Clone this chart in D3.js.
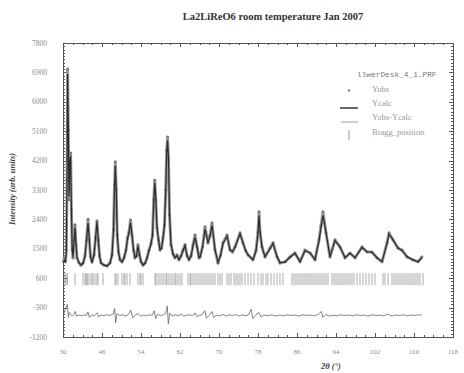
<!DOCTYPE html>
<html lang="en">
<head>
<meta charset="utf-8">
<style>
html, body {
    margin: 0;
    padding: 0;
    background: #fff;
}
svg {
    width: 464px;
    height: 373px;
    display: block;
}
</style>
</head>
<body>
<svg></svg>

<script src="https://unpkg.com/d3@7/dist/d3.min.js"></script>
<script>
var twoTheta = [
    38.1, 38.3, 38.5, 38.68, 38.82, 38.94, 39.09, 39.23, 39.4, 39.56,
    39.72, 39.89, 40.05, 40.26, 40.46, 40.67, 40.87, 41.28, 41.69, 42.1,
    42.51, 42.82, 43.13, 43.4, 43.64, 43.95, 44.36, 44.67, 44.97, 45.24,
    45.49, 45.79, 46.41, 47.03, 47.64, 48.05, 48.36, 48.57, 48.73, 48.92,
    49.12, 49.38, 49.69, 50.1, 50.51, 50.92, 51.23, 51.54, 51.85, 52.15,
    52.46, 52.77, 53.08, 53.38, 53.69, 54.0, 54.41, 54.82, 55.23, 55.64,
    56.05, 56.36, 56.62, 56.82, 57.03, 57.28, 57.59, 57.9, 58.2, 58.51,
    58.82, 59.07, 59.27, 59.45, 59.64, 59.85, 60.15, 60.56, 60.97, 61.38,
    61.79, 62.21, 62.62, 63.03, 63.44, 63.85, 64.26, 64.67, 65.08, 65.49,
    65.9, 66.1, 66.62, 67.13, 67.74, 68.15, 68.56, 69.18, 69.79, 70.31,
    70.82, 71.64, 72.26, 72.77, 73.28, 74.31, 74.92, 75.44, 75.95, 76.97,
    77.59, 77.99, 78.21, 78.41, 78.82, 79.44, 80.46, 81.08, 81.9, 82.51,
    83.54, 84.56, 85.59, 86.62, 87.64, 88.67, 89.69, 90.51, 90.92, 91.33,
    91.95, 92.77, 93.79, 94.82, 95.85, 96.87, 97.9, 99.33, 100.36, 101.38,
    102.41, 103.44, 104.46, 104.87, 105.69, 106.72, 107.54, 108.56, 109.79, 110.82,
    111.64
];
var yObs = [
    1100, 1220, 1100, 1460, 3600, 7000, 5140, 3000, 4220, 4430,
    2690, 1460, 1220, 1770, 2230, 1620, 1220, 1065, 1000, 1060,
    1280, 1770, 2400, 1770, 1250, 1100, 1310, 1830, 2350, 1770,
    1280, 1065, 1000, 970, 1065, 1310, 2075, 3450, 4160, 3300,
    1920, 1400, 1160, 1100, 1220, 1460, 1830, 2010, 2380, 1920,
    1460, 1220, 1280, 1620, 1310, 1100, 1000, 1060, 1220, 1460,
    1650, 1920, 3000, 3600, 3000, 2140, 1770, 1460, 1520, 1830,
    2230, 3300, 4520, 4920, 4220, 2530, 1620, 1340, 1220, 1310,
    1160, 1280, 1460, 1620, 1280, 1160, 1280, 1620, 1920, 1555,
    1220, 1250, 1560, 2170, 1680, 1900, 2290, 1460, 1065, 1300,
    1680, 1920, 1460, 1400, 1555, 1985, 1680, 1450, 1310, 1160,
    1450, 2000, 2630, 2000, 1555, 1250, 1520, 1680, 1250, 1065,
    1100, 1250, 1370, 1100, 1460, 1370, 1160, 1770, 2200, 2630,
    1985, 1250, 1770, 1555, 1220, 1370, 1220, 1555, 1400, 1400,
    1220, 1100, 1680, 1985, 1770, 1520, 1460, 1250, 1160, 1100,
    1250
];
var yCalc = [
    1080, 1150, 1120, 1400, 3500, 6850, 5200, 3100, 4150, 4350,
    2750, 1500, 1250, 1720, 2150, 1650, 1250, 1080, 1010, 1050,
    1260, 1750, 2290, 1790, 1270, 1090, 1300, 1810, 2320, 1780,
    1300, 1070, 1000, 980, 1060, 1300, 2050, 3400, 4050, 3350,
    1950, 1420, 1170, 1100, 1210, 1450, 1800, 2000, 2300, 1940,
    1480, 1230, 1270, 1580, 1320, 1110, 1010, 1050, 1210, 1450,
    1640, 1900, 2950, 3520, 3050, 2160, 1780, 1470, 1510, 1820,
    2200, 3250, 4450, 4820, 4260, 2580, 1650, 1350, 1230, 1290,
    1180, 1270, 1440, 1600, 1300, 1170, 1270, 1600, 1850, 1570,
    1240, 1240, 1540, 2100, 1700, 1880, 2220, 1480, 1080, 1290,
    1660, 1880, 1470, 1420, 1540, 1950, 1690, 1460, 1320, 1170,
    1430, 1950, 2520, 2050, 1560, 1260, 1500, 1660, 1270, 1080,
    1090, 1240, 1360, 1110, 1440, 1380, 1170, 1740, 2150, 2520,
    2010, 1260, 1750, 1560, 1230, 1360, 1230, 1540, 1410, 1390,
    1230, 1110, 1650, 1950, 1780, 1520, 1450, 1260, 1160, 1110,
    1230
];

// difference curve (shifted below the pattern)
var diffTheta = [
    38.1, 38.4, 38.7, 38.9, 39.1, 39.3, 39.6, 39.9, 40.3, 40.5,
    40.8, 41.3, 41.8, 42.3, 42.8, 43.1, 43.4, 43.9, 44.4, 45.0,
    45.3, 45.8, 46.4, 47.0, 47.6, 48.3, 48.6, 48.8, 49.1, 49.6,
    50.2, 50.8, 51.4, 51.9, 52.3, 52.8, 53.4, 53.9, 54.5, 55.1,
    55.7, 56.3, 56.7, 57.0, 57.4, 58.0, 58.6, 59.1, 59.4, 59.6,
    59.9, 60.4, 61.0, 61.6, 62.2, 62.8, 63.4, 64.0, 64.6, 65.1,
    65.5, 66.0, 66.5, 67.1, 67.4, 68.0, 68.6, 68.9, 69.5, 70.2,
    70.8, 71.5, 72.1, 72.8, 73.4, 74.1, 74.8, 75.4, 76.0, 76.6,
    76.9, 77.5, 78.2, 78.6, 79.2, 80.0, 80.8, 81.6, 82.4, 83.2,
    84.0, 84.8, 85.6, 86.4, 87.2, 88.0, 88.8, 89.6, 90.4, 91.0,
    91.3, 91.9, 92.6, 93.4, 94.2, 95.0, 95.8, 96.6, 97.4, 98.2,
    99.0, 99.8, 100.6, 101.4, 102.2, 103.0, 103.8, 104.6, 105.4, 106.2,
    107.0, 107.8, 108.6, 109.4, 110.2, 111.0, 111.6
];
var yDiff = [
    -520, -380, -250, -200, -600, -450, -520, -560, -500, -420,
    -560, -530, -550, -520, -540, -430, -600, -530, -550, -460,
    -580, -530, -550, -520, -540, -500, -330, -760, -480, -540,
    -520, -560, -510, -380, -620, -530, -480, -560, -530, -550,
    -520, -540, -400, -640, -500, -550, -520, -480, -250, -800,
    -470, -560, -520, -550, -500, -560, -530, -520, -550, -460,
    -580, -530, -520, -390, -620, -540, -420, -600, -530, -550,
    -510, -560, -520, -540, -510, -560, -520, -550, -530, -350,
    -640, -530, -450, -590, -530, -550, -520, -560, -530, -550,
    -520, -540, -530, -560, -520, -540, -530, -550, -500, -420,
    -600, -510, -560, -530, -550, -520, -540, -530, -550, -520,
    -540, -530, -560, -520, -540, -530, -550, -500, -560, -530,
    -540, -520, -550, -530, -540, -520, -530
];

// reflection positions
var braggPos = [
    38.41, 38.62, 38.92, 40.46, 42.1, 42.51, 42.72, 42.92, 43.13, 43.54,
    43.95, 44.15, 44.56, 44.97, 45.18, 46.21, 48.67, 48.87, 49.28, 50.1,
    50.51, 50.72, 51.13, 51.74, 53.38, 53.79, 54.0, 54.41, 56.87, 57.08,
    57.49, 57.9, 58.31, 58.72, 59.13, 59.33, 59.74, 60.15, 60.56, 60.97,
    61.18, 61.59, 62.0, 62.41, 63.64, 64.05, 64.26, 64.67, 65.08, 65.49,
    65.9, 66.31, 66.72, 67.13, 67.54, 67.95, 68.36, 68.77, 69.18, 69.79,
    70.21, 70.62, 71.64, 72.05, 72.46, 73.08, 73.49, 73.9, 74.31, 74.72,
    75.33, 75.95, 76.56, 77.18, 78.0, 78.62, 79.03, 79.64, 80.05, 80.67,
    81.28, 81.9, 82.51, 83.13, 84.97, 85.38, 85.79, 86.21, 86.62, 87.03,
    87.44, 87.85, 88.26, 88.67, 89.08, 89.49, 89.9, 90.31, 90.72, 91.13,
    91.54, 91.95, 92.36, 93.18, 93.59, 94.0, 94.41, 94.82, 95.23, 95.64,
    96.05, 96.46, 96.87, 97.28, 97.69, 98.31, 98.92, 99.54, 100.15, 100.77,
    101.38, 102.0, 103.64, 104.05, 104.67, 105.49, 105.9, 106.31, 106.72, 107.13,
    107.54, 107.95, 108.36, 108.77, 109.18, 109.59, 110.0, 110.41, 110.82, 111.23,
    111.85
];

// axis labels as printed on the plot
var xTickLabels = ["30", "46", "54", "62", "70", "78", "86", "94", "102", "110", "118"];
var yTickLabels = ["-1200", "-300", "600", "1500", "2400", "3300", "4200", "5100", "6000", "6900", "7800"];
var legendItems = ["Yobs", "Ycalc", "Yobs-Ycalc", "Bragg_position"];

var svg = d3.select("svg");
var plotL = 63, plotR = 453, plotT = 43, plotB = 337;

var x = d3.scaleLinear().domain([38, 118]).range([plotL, plotR]);
var y = d3.scaleLinear().domain([-1200, 7800]).range([plotB, plotT]);

var serif = "'Liberation Serif', 'DejaVu Serif', serif";
var labelGray = "#8c8c8c";

/////////////////////////////////////////
// frame + ticks (inward, mirrored)
/////////////////////////////////////////
var xMajor = d3.range(38, 118.1, 8);
var xMinor = d3.range(38, 118.1, 2);
var yMajor = d3.range(-1200, 7801, 900);
var yMinor = d3.range(-1200, 7801, 100);

var frame = svg.append("g").attr("stroke", "#555").attr("stroke-width", 1);

frame.append("rect")
    .attr("x", plotL + 0.5).attr("y", plotT + 0.5)
    .attr("width", plotR - plotL).attr("height", plotB - plotT)
    .attr("fill", "none");

frame.selectAll(".xt").data(xMinor).enter().append("path")
    .attr("d", function(d){
        var len = xMajor.indexOf(d) >= 0 ? 4 : 2;
        var px = Math.round(x(d)) + 0.5;
        return "M" + px + "," + plotB + "v" + (-len) + "M" + px + "," + plotT + "v" + len;
    });

frame.selectAll(".yt").data(yMinor).enter().append("path")
    .attr("d", function(d){
        var len = yMajor.indexOf(d) >= 0 ? 4 : 2;
        var py = Math.round(y(d)) + 0.5;
        return "M" + plotL + "," + py + "h" + len + "M" + plotR + "," + py + "h" + (-len);
    });

// tick labels
svg.selectAll(".xl").data(xMajor).enter().append("text")
    .attr("x", function(d){ return x(d) })
    .attr("y", 354)
    .attr("text-anchor", "middle")
    .attr("font-family", serif)
    .attr("font-size", 7)
    .attr("fill", labelGray)
    .text(function(d, i){ return xTickLabels[i] });

svg.selectAll(".yl").data(yMajor).enter().append("text")
    .attr("x", 47)
    .attr("y", function(d){ return y(d) + 2.5 })
    .attr("text-anchor", "end")
    .attr("font-family", serif)
    .attr("font-size", 7.5)
    .attr("fill", labelGray)
    .text(function(d, i){ return yTickLabels[i] });

/////////////////////////////////////////
// titles
/////////////////////////////////////////
svg.append("text")
    .attr("x", 273).attr("y", 20)
    .attr("text-anchor", "middle")
    .attr("font-family", serif)
    .attr("font-weight", "bold")
    .attr("font-size", 10.5)
    .attr("fill", "#333")
    .text("La2LiReO6 room temperature Jan 2007");

svg.append("text")
    .attr("transform", "translate(15,189) rotate(-90)")
    .attr("text-anchor", "middle")
    .attr("font-family", serif)
    .attr("font-weight", "bold")
    .attr("font-style", "italic")
    .attr("font-size", 8.5)
    .attr("fill", "#444")
    .text("Intensity (arb. units)");

svg.append("text")
    .attr("x", 331).attr("y", 369)
    .attr("text-anchor", "middle")
    .attr("font-family", serif)
    .attr("font-weight", "bold")
    .attr("font-style", "italic")
    .attr("font-size", 8.5)
    .attr("fill", "#444")
    .text("2θ (°)");

/////////////////////////////////////////
// data
/////////////////////////////////////////
var obsPts = twoTheta.map(function(t, i){ return [t, yObs[i]] });
var calcPts = twoTheta.map(function(t, i){ return [t, yCalc[i]] });
var diffPts = diffTheta.map(function(t, i){ return [t, yDiff[i]] });

var line = d3.line()
    .x(function(d){ return x(d[0]) })
    .y(function(d){ return y(d[1]) });

// observed points: grey band plus dots
svg.append("path")
    .attr("d", line(obsPts))
    .attr("fill", "none")
    .attr("stroke", "#9a9a9a")
    .attr("stroke-width", 3)
    .attr("stroke-linejoin", "round");

svg.selectAll(".obs").data(obsPts).enter().append("circle")
    .attr("cx", function(d){ return x(d[0]) })
    .attr("cy", function(d){ return y(d[1]) })
    .attr("r", 1.4)
    .attr("fill", "#7a7a7a");

// calculated
svg.append("path")
    .attr("d", line(calcPts))
    .attr("fill", "none")
    .attr("stroke", "#2a2a2a")
    .attr("stroke-width", 1.2);

// bragg ticks
svg.selectAll(".bragg").data(braggPos).enter().append("line")
    .attr("x1", function(d){ return x(d) })
    .attr("x2", function(d){ return x(d) })
    .attr("y1", y(570) - 6)
    .attr("y2", y(570) + 6)
    .attr("stroke", "#8a8a8a")
    .attr("stroke-width", 0.7);

// difference
svg.append("path")
    .attr("d", line(diffPts))
    .attr("fill", "none")
    .attr("stroke", "#666")
    .attr("stroke-width", 0.8);

/////////////////////////////////////////
// legend
/////////////////////////////////////////
var lg = svg.append("g");

lg.append("text")
    .attr("x", 357).attr("y", 77)
    .attr("font-family", "'Liberation Mono', 'DejaVu Sans Mono', monospace")
    .attr("font-size", 7.8)
    .attr("fill", "#777")
    .text("llwerDesk_4_1.PRF");

var rowY = [92, 106, 120, 135];

lg.selectAll(".lt").data(legendItems).enter().append("text")
    .attr("x", 372)
    .attr("y", function(d, i){ return rowY[i] })
    .attr("font-family", serif)
    .attr("font-size", 8.5)
    .attr("fill", "#999")
    .text(function(d){ return d });

lg.append("circle").attr("cx", 349).attr("cy", rowY[0] - 1.5).attr("r", 1.2).attr("fill", "#888");
lg.append("line").attr("x1", 340).attr("x2", 358).attr("y1", rowY[1] + 2).attr("y2", rowY[1] + 2)
    .attr("stroke", "#444").attr("stroke-width", 1.6);
lg.append("line").attr("x1", 341).attr("x2", 358).attr("y1", rowY[2] + 2).attr("y2", rowY[2] + 2)
    .attr("stroke", "#888").attr("stroke-width", 0.8);
lg.append("line").attr("x1", 349).attr("x2", 349).attr("y1", rowY[3] - 5).attr("y2", rowY[3] + 5)
    .attr("stroke", "#888").attr("stroke-width", 0.9);
</script>
</body>
</html>
